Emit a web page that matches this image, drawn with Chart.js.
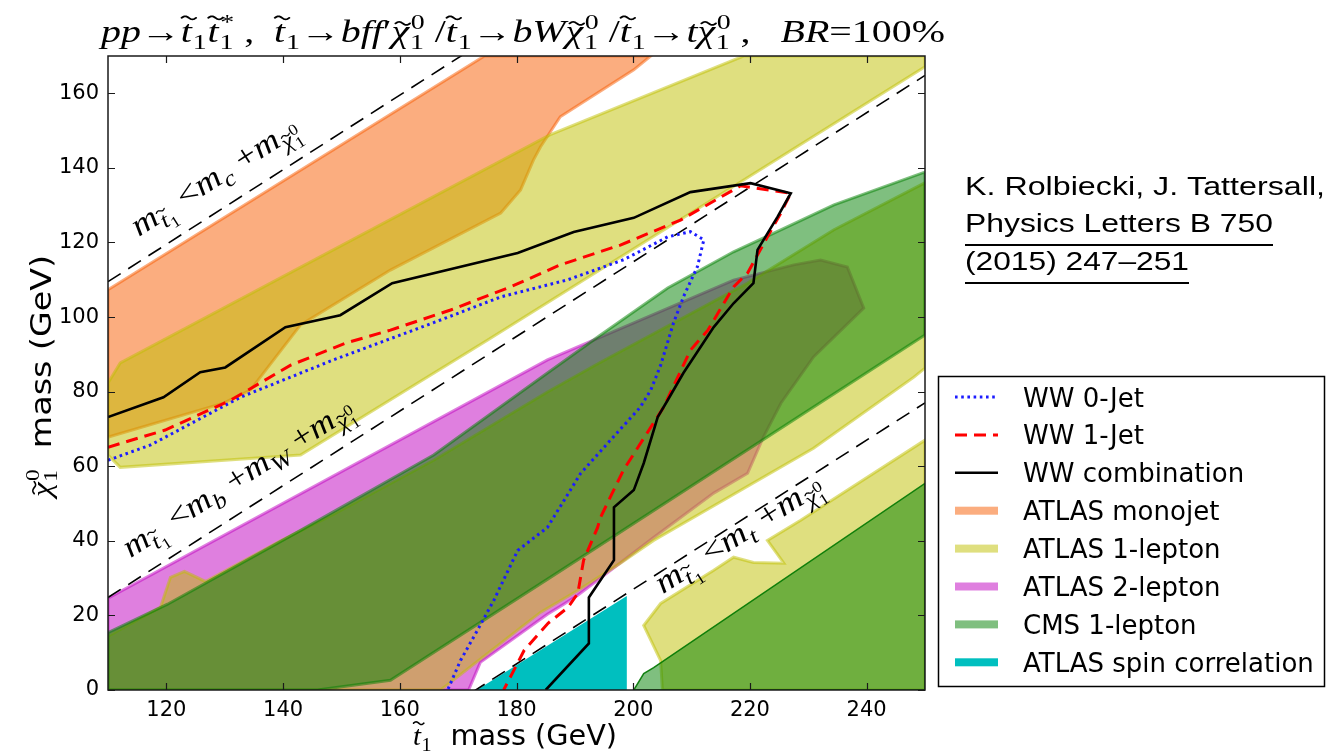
<!DOCTYPE html>
<html>
<head>
<meta charset="utf-8">
<title>Light stop exclusion limits</title>
<script src="https://cdn.jsdelivr.net/npm/chart.js@4/dist/chart.umd.min.js"></script>
<style>
  html, body { margin: 0; padding: 0; background: #ffffff; }
  canvas { display: block; }
</style>
</head>
<body>
<canvas id="chart" width="1343" height="753" style="width:1343px;height:753px"></canvas>
<script>
// ---------------------------------------------------------------------------
// Axis limits and tick values (GeV)
// ---------------------------------------------------------------------------
const xRange = [110, 250];
const yRange = [0, 170];
const xTicks = [120, 140, 160, 180, 200, 220, 240];
const yTicks = [0, 20, 40, 60, 80, 100, 120, 140, 160];

// Kinematic thresholds m(stop) = m + m(neutralino): charm, b+W, top
const thresholdMasses = [0.5, 85.2, 173.0];

// ---------------------------------------------------------------------------
// WW cross-section exclusion contours: [m(stop), m(neutralino)]
// ---------------------------------------------------------------------------
const ww0Jet = [[110,61.6],[117.3,65.7],[132.7,78.5],[148.6,88.5],[165.8,98.5],[177.3,105.4],
  [188.8,110],[198.4,115.4],[205.9,121.5],[209.8,122.9],[212.1,120.7],[211,113.5],[208.6,105.4],
  [206.9,98.4],[204.7,87.1],[203,80.4],[201.2,75.8],[196.1,67],[191,58.1],[185.3,43.6],
  [180.2,37.4],[176.1,24],[173.3,16],[170.4,7.9],[168.2,0]];

const ww1Jet = [[110,65.1],[119.8,69.7],[131,77.7],[141.3,87.1],[150.7,93],[158.4,96.5],
  [168.7,101.9],[179,108.1],[187.5,114],[197.8,119.3],[208.1,126],[218.4,135.2],[227,133.2],
  [225.3,127.9],[223,121.5],[219.6,111.8],[217.2,108.1],[212.8,96.5],[209.8,91.1],[205.2,75.8],
  [198.3,58.9],[194.4,46.3],[193.9,43.6],[191.5,34.8],[190.5,25.9],[188.8,22.1],[185.4,17.9],
  [181.3,10.6],[177.8,0]];

const wwCombination = [[110,73.2],[119.5,78.5],[125.8,85.2],[130.1,86.5],[140.4,97.3],[149.8,100.5],
  [158.7,109.1],[180.2,117.2],[189.8,122.8],[200.1,126.6],[209.8,133.5],[220.1,135.9],[227,133.2],
  [224.7,126.8],[221.3,118],[220.6,109.1],[217.2,103.7],[213.8,97.3],[208.6,85],[205.9,77.7],
  [204.2,73.2],[201.8,60.8],[200.1,53.6],[196.7,49],[196.7,34.8],[192.4,24.8],[192.4,12.5],[185,0]];

// ---------------------------------------------------------------------------
// Experimental exclusion regions (closed outlines)
// ---------------------------------------------------------------------------
const atlasMonojet = [[110,107.3],[174.5,170],[203,170],[200.1,166.3],[187.5,153.7],[184.1,145.6],
  [182.9,142.1],[180.7,134.1],[177.3,127.9],[158.4,112.6],[143,97.9],[134.4,80.4],[129.8,76.9],[110,67.8]];

const atlas1LeptonUpper = [[110,82.3],[112.1,87.7],[185.8,148.9],[218.9,170],[250,170],[250,167.1],
  [175,93.8],[143,63],[112.1,59.7],[110,63]];

const atlas1LeptonMiddle = [[110,14.4],[119,22.2],[120.7,30.2],[123.1,31.8],[126.7,29.1],[139.5,39.9],
  [148.6,47.1],[165.8,61.6],[185.3,79.9],[194.4,87.9],[219.6,109.1],[234.4,123.4],[250,136],
  [250,86.3],[248.1,83.9],[230.9,64.8],[203.5,40.1],[197.8,34],[190.5,26.7],[184.1,20.8],[167,0],[110,0]];

const atlas1LeptonLower = [[205,0],[204.7,7.9],[201.8,17.3],[204.7,23.2],[213.8,32.1],[217.2,35.6],
  [220.6,34.2],[225.8,34],[223,40.1],[228.7,45.5],[250,67],[250,0]];

const atlas2Lepton = [[110,24.6],[185.3,88.5],[217.2,109.9],[227.5,114],[232.1,115.3],[236.7,113.4],
  [239.5,102.4],[230.9,89.3],[225.3,76.9],[222.3,67.8],[219.6,58.1],[213.8,52.8],[203.5,40.9],
  [190.5,25.4],[188.1,23],[185.3,20.3],[173.8,7.4],[171.8,0],[110,0]];

const cms1LeptonMain = [[110,15.4],[120.2,23],[143,42.8],[165.8,63],[185.3,85],[194.4,95.2],
  [205.9,107.8],[217.2,117.5],[223,121.7],[234.4,130.1],[250,138.9],[250,95.2],[185.8,30.2],
  [158.4,2.6],[145.9,0],[110,0]];

const cms1LeptonCorner = [[200.1,0],[201.8,4.4],[203.5,6],[250,55.4],[250,0]];

const atlasSpinCorrelation = [[173.2,0],[198.9,25.2],[198.9,0]];

// ---------------------------------------------------------------------------
// Styling
// ---------------------------------------------------------------------------
const SERIF = '"Liberation Serif", "DejaVu Serif", serif';
const SANS = '"DejaVu Sans", sans-serif';
const ARIAL = '"Liberation Sans", Arial, sans-serif';

const rgba = (c, a) => `rgba(${c[0]},${c[1]},${c[2]},${a})`;
const toXY = pts => pts.map(([x, y]) => ({ x, y }));
const closed = pts => pts.concat([pts[0]]);

const colMonojet = [248, 92, 0];
const col1Lepton = [191, 191, 0];
const col2Lepton = [191, 0, 191];
const colCms = [0, 128, 0];
const colSpin = [0, 191, 191];

function region(label, outline, col, alpha, edgeWidth, edgeColor, legendRank) {
  return {
    label,
    data: toXY(closed(outline)),
    polygonFill: rgba(col, alpha),
    legendColor: rgba(col, alpha),
    borderColor: edgeColor === undefined ? rgba(col, 0.5) : edgeColor,
    borderWidth: edgeWidth,
    fill: false,
    pointRadius: 0,
    legendRank
  };
}

function curve(label, pts, color, width, dash, legendRank) {
  return {
    label,
    data: toXY(pts),
    borderColor: color,
    borderWidth: width,
    borderDash: dash,
    fill: false,
    pointRadius: 0,
    legendRank
  };
}

const datasets = [
  region('ATLAS monojet', atlasMonojet, colMonojet, 0.5, 3, undefined, 3),
  region('ATLAS 2-lepton', atlas2Lepton, col2Lepton, 0.5, 3, undefined, 5),
  region('ATLAS 1-lepton', atlas1LeptonUpper, col1Lepton, 0.5, 3, undefined, 4),
  region('ATLAS 1-lepton', atlas1LeptonMiddle, col1Lepton, 0.5, 3),
  region('ATLAS 1-lepton', atlas1LeptonLower, col1Lepton, 0.5, 3),
  region('CMS 1-lepton', cms1LeptonMain, colCms, 0.5, 3, undefined, 6),
  region('CMS 1-lepton', cms1LeptonCorner, colCms, 0.5, 1.5, 'rgba(0,120,0,0.9)'),
  region('ATLAS spin correlation', atlasSpinCorrelation, colSpin, 1, 0, 'rgba(0,0,0,0)', 7),
];

// kinematic boundary lines
thresholdMasses.forEach(m => {
  datasets.push({
    label: 'threshold',
    data: toXY([[xRange[0], xRange[0] - m], [xRange[1], xRange[1] - m]]),
    borderColor: '#000000',
    borderWidth: 1.6,
    borderDash: [15, 9],
    fill: false,
    pointRadius: 0
  });
});

datasets.push(curve('WW 0-Jet', ww0Jet, '#1c1cff', 3, [2.6, 3.6], 0));
datasets.push(curve('WW 1-Jet', ww1Jet, '#ff0000', 3, [12, 7], 1));
datasets.push(curve('WW combination', wwCombination, '#000000', 2.6, [], 2));

// earlier datasets are painted first
datasets.forEach((d, i) => { d.order = datasets.length - i; });

// ---------------------------------------------------------------------------
// Rich (math-like) text helpers
// ---------------------------------------------------------------------------
function fontFor(seg, size) {
  if (seg.sans) return `${size}px ${SANS}`;
  return `${seg.it ? 'italic ' : ''}${size}px ${SERIF}`;
}
const asSegs = s => (typeof s === 'string' ? [{ t: s }] : s);

function segWidth(ctx, seg, size) {
  ctx.font = fontFor(seg, size);
  const w = ctx.measureText(seg.t).width;
  let extra = 0;
  if (seg.sub) extra = Math.max(extra, richWidth(ctx, asSegs(seg.sub), size * 0.7));
  if (seg.sup) extra = Math.max(extra, richWidth(ctx, asSegs(seg.sup), size * 0.7));
  return w + extra + (extra ? size * 0.04 : 0);
}
function richWidth(ctx, segs, size) {
  return segs.reduce((s, seg) => s + segWidth(ctx, seg, size), 0);
}
function drawTilde(ctx, cx, cy, size) {
  const w = size * 0.36, a = size * 0.05;
  ctx.save();
  ctx.lineWidth = Math.max(1, size * 0.055);
  ctx.lineCap = 'round';
  ctx.strokeStyle = ctx.fillStyle;
  ctx.beginPath();
  for (let i = 0; i <= 16; i++) {
    const t = i / 16;
    const px = cx - w / 2 + w * t;
    const py = cy - a * Math.sin(2 * Math.PI * t);
    if (i) ctx.lineTo(px, py); else ctx.moveTo(px, py);
  }
  ctx.stroke();
  ctx.restore();
}
function drawRich(ctx, segs, x, y, size) {
  for (const seg of segs) {
    ctx.font = fontFor(seg, size);
    const w = ctx.measureText(seg.t).width;
    ctx.fillText(seg.t, x, y);
    if (seg.tilde) drawTilde(ctx, x + w * 0.5 + size * 0.06, y - size * seg.tilde, size);
    if (seg.sub) drawRich(ctx, asSegs(seg.sub), x + w + size * 0.02, y + size * 0.22, size * 0.7);
    if (seg.sup) drawRich(ctx, asSegs(seg.sup), x + w + size * 0.04, y - size * 0.42, size * 0.7);
    x += segWidth(ctx, seg, size);
  }
}
// draw rich text with its natural height and stretched to a given width
function drawFitted(ctx, segs, x, y, size, width, angle) {
  ctx.save();
  const natural = richWidth(ctx, segs, size);
  ctx.translate(x, y);
  if (angle) ctx.rotate(angle);
  ctx.scale(width / natural, 1);
  ctx.fillStyle = '#000';
  ctx.textBaseline = 'alphabetic';
  ctx.textAlign = 'left';
  drawRich(ctx, segs, 0, 0, size);
  ctx.restore();
}

const stop1 = () => ({ t: 't', it: true, tilde: 0.78, sub: '1' });
const chi10 = () => ({ t: 'χ', it: true, tilde: 0.6, sub: '1', sup: '0' });
const mass = inner => ({ t: 'm', it: true, sub: inner });

const titleSegs = [
  { t: 'pp', it: true }, { t: '→' }, stop1(), { t: 't', it: true, tilde: 0.78, sub: '1', sup: '*' },
  { t: ' ,  ' }, stop1(), { t: '→' }, { t: 'bff', it: true }, { t: '′' }, chi10(), { t: ' /' },
  stop1(), { t: '→' }, { t: 'bW', it: true }, chi10(), { t: ' /' }, stop1(), { t: '→' },
  { t: 't', it: true }, chi10(), { t: ' ,   ' }, { t: 'BR', it: true }, { t: '=' }, { t: '100%' }
];

const thresholdLabels = [
  { line: 0, at: 117.2, offset: 21, width: 193,
    segs: [mass([stop1()]), { t: ' <' }, mass([{ t: 'c', it: true }]), { t: ' +' }, mass([chi10()])] },
  { line: 1, at: 115.8, offset: 21, width: 268,
    segs: [mass([stop1()]), { t: ' <' }, mass([{ t: 'b', it: true }]), { t: ' +' },
           mass([{ t: 'W', it: true }]), { t: ' +' }, mass([chi10()])] },
  { line: 2, at: 203.2, offset: -20, width: 193,
    segs: [mass([stop1()]), { t: ' <' }, mass([{ t: 't', it: true }]), { t: ' +' }, mass([chi10()])] }
];

const citation = [
  { text: 'K. Rolbiecki, J. Tattersall,', y: 195, width: 360, underline: false },
  { text: 'Physics Letters B 750', y: 232, width: 308, underline: true },
  { text: '(2015) 247–251', y: 270, width: 224, underline: true }
];

// ---------------------------------------------------------------------------
// Plugins
// ---------------------------------------------------------------------------
const polygonFill = {
  id: 'polygonFill',
  beforeDatasetDraw(chart, args) {
    const ds = chart.data.datasets[args.index];
    if (!ds.polygonFill) return;
    const pts = args.meta.data;
    const a = chart.chartArea;
    const ctx = chart.ctx;
    ctx.save();
    ctx.beginPath();
    ctx.rect(a.left, a.top, a.right - a.left, a.bottom - a.top);
    ctx.clip();
    ctx.beginPath();
    pts.forEach((p, i) => (i ? ctx.lineTo(p.x, p.y) : ctx.moveTo(p.x, p.y)));
    ctx.closePath();
    ctx.fillStyle = ds.polygonFill;
    ctx.fill();
    ctx.restore();
  }
};

const decorations = {
  id: 'decorations',
  afterDraw(chart) {
    const ctx = chart.ctx;
    const a = chart.chartArea;
    const xs = chart.scales.x, ys = chart.scales.y;

    // frame and inward tick marks on all four sides
    ctx.save();
    ctx.strokeStyle = '#1a1a1a';
    ctx.lineWidth = 1.5;
    ctx.strokeRect(a.left, a.top, a.right - a.left, a.bottom - a.top);
    ctx.lineWidth = 1.2;
    ctx.beginPath();
    xTicks.forEach(v => {
      const px = Math.round(xs.getPixelForValue(v)) + 0.5;
      ctx.moveTo(px, a.bottom); ctx.lineTo(px, a.bottom - 7);
      ctx.moveTo(px, a.top); ctx.lineTo(px, a.top + 7);
    });
    yTicks.forEach(v => {
      const py = Math.round(ys.getPixelForValue(v)) + 0.5;
      ctx.moveTo(a.left, py); ctx.lineTo(a.left + 7, py);
      ctx.moveTo(a.right, py); ctx.lineTo(a.right - 7, py);
    });
    ctx.stroke();
    ctx.restore();

    // labels along the kinematic boundaries
    thresholdLabels.forEach(lab => {
      const m = thresholdMasses[lab.line];
      const x0 = xs.getPixelForValue(lab.at), y0 = ys.getPixelForValue(lab.at - m);
      const x1 = xs.getPixelForValue(lab.at + 10), y1 = ys.getPixelForValue(lab.at + 10 - m);
      const ang = Math.atan2(y1 - y0, x1 - x0);
      const nx = Math.sin(ang), ny = -Math.cos(ang);
      drawFitted(ctx, lab.segs, x0 + nx * lab.offset, y0 + ny * lab.offset, 32, lab.width, ang);
    });

    // title and axis titles
    drawFitted(ctx, titleSegs, 101, 42, 31, 844);
    drawFitted(ctx, [stop1(), { t: '  mass (GeV)', sans: true }], 413, 745, 28, 204);
    drawFitted(ctx, [chi10(), { t: '  mass (GeV)', sans: true }], 51, 497, 28, 242, -Math.PI / 2);

    // legend
    const box = { x: 938.5, y: 376.5, w: 386, h: 310 };
    ctx.save();
    ctx.fillStyle = '#ffffff';
    ctx.fillRect(box.x, box.y, box.w, box.h);
    ctx.strokeStyle = '#000000';
    ctx.lineWidth = 1.5;
    ctx.strokeRect(box.x, box.y, box.w, box.h);
    const entries = chart.data.datasets.filter(d => d.legendRank !== undefined)
      .sort((p, q) => p.legendRank - q.legendRank);
    entries.forEach((d, i) => {
      const cy = 397 + i * 37.9;
      if (d.polygonFill) {
        ctx.fillStyle = d.legendColor;
        ctx.fillRect(955, cy - 4, 43, 8);
      } else {
        ctx.strokeStyle = d.borderColor;
        ctx.lineWidth = d.borderWidth;
        ctx.setLineDash(d.borderDash || []);
        ctx.beginPath();
        ctx.moveTo(955, cy); ctx.lineTo(998, cy);
        ctx.stroke();
        ctx.setLineDash([]);
      }
      ctx.fillStyle = '#000000';
      ctx.font = `26px ${SANS}`;
      ctx.textBaseline = 'alphabetic';
      ctx.fillText(d.label, 1023, cy + 9.5);
    });
    ctx.restore();

    // citation
    ctx.save();
    ctx.fillStyle = '#000000';
    ctx.strokeStyle = '#000000';
    ctx.font = `25.5px ${ARIAL}`;
    ctx.textBaseline = 'alphabetic';
    citation.forEach(line => {
      const w = ctx.measureText(line.text).width;
      ctx.save();
      ctx.translate(965, line.y);
      ctx.scale(line.width / w, 1);
      ctx.fillText(line.text, 0, 0);
      ctx.restore();
      if (line.underline) {
        ctx.fillRect(965, line.y + 12, line.width, 2);
      }
    });
    ctx.restore();
  }
};

// ---------------------------------------------------------------------------
// Chart
// ---------------------------------------------------------------------------
function build() {
  new Chart(document.getElementById('chart'), {
    type: 'line',
    data: { datasets },
    options: {
      responsive: false,
      animation: false,
      devicePixelRatio: 1,
      events: [],
      layout: { padding: { top: 56, right: 418, left: 0, bottom: 0 } },
      elements: { line: { tension: 0 }, point: { radius: 0 } },
      plugins: { legend: { display: false }, tooltip: { enabled: false }, title: { display: false } },
      scales: {
        x: {
          type: 'linear', min: xRange[0], max: xRange[1],
          grid: { display: false, drawTicks: false },
          border: { display: false },
          ticks: { color: '#000', font: { family: 'DejaVu Sans', size: 21 }, padding: 8,
                   maxRotation: 0, autoSkip: false },
          afterBuildTicks: s => { s.ticks = xTicks.map(v => ({ value: v })); },
          afterFit: s => { s.height = 63; }
        },
        y: {
          type: 'linear', min: yRange[0], max: yRange[1],
          grid: { display: false, drawTicks: false },
          border: { display: false },
          ticks: { color: '#000', font: { family: 'DejaVu Sans', size: 21 }, padding: 9, autoSkip: false },
          afterBuildTicks: s => { s.ticks = yTicks.map(v => ({ value: v })); },
          afterFit: s => { s.width = 108; }
        }
      }
    },
    plugins: [polygonFill, decorations]
  });
}

const fontLoads = [
  `21px "DejaVu Sans"`, `italic 30px "Liberation Serif"`, `30px "Liberation Serif"`, `25px "Liberation Sans"`
].map(f => (document.fonts && document.fonts.load ? document.fonts.load(f) : Promise.resolve()));
Promise.all(fontLoads).then(build, build);
</script>
</body>
</html>
